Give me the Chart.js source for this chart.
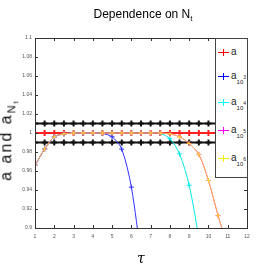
<!DOCTYPE html>
<html>
<head>
<meta charset="utf-8">
<script src="https://cdn.jsdelivr.net/npm/chart.js@4"></script>
<style>
  body { margin: 0; background: #fff; }
  #wrap { position: relative; width: 273px; height: 273px; font-family: "Liberation Sans", Arial, sans-serif; }
  #title { position: absolute; left: 0; width: 286px; top: 7px; text-align: center; font-family: "Liberation Sans Narrow", "Liberation Sans", sans-serif; font-stretch: condensed; font-size: 12px; color: #000; }
  #ylab { position: absolute; left: 9px; top: 140px; transform: translate(-50%, -50%) rotate(-90deg); font-size: 16px; white-space: nowrap; letter-spacing: 2px; font-weight: normal; color: #111; }
  #xlab { position: absolute; left: 137px; top: 250px; font-size: 14px; font-style: italic; font-family: "DejaVu Serif", serif; }
  #legend { position: absolute; left: 215px; top: 38px; width: 31px; height: 138px; border: 1px solid #444; background: #fff; overflow: hidden; }
  .item { position: absolute; left: 0; height: 12px; width: 31px; }
  .ln { position: absolute; left: 2px; top: 6px; width: 11px; height: 1px; }
  .pv { position: absolute; left: 7px; top: 3px; width: 1px; height: 7px; }
  .tx { position: absolute; left: 15px; top: 0px; font-size: 10px; line-height: 11px; color: #222; white-space: nowrap; }
  .tx sub { font-size: 6px; vertical-align: -5px; }
  .tx sup { font-size: 5px; vertical-align: 5px; }
</style>
</head>
<body>
<div id="wrap">
  <canvas id="myChart" width="273" height="273"></canvas>
  <div id="title">Dependence on N<sub style="font-size:8px">t</sub></div>
  <div id="ylab">a and a<sub style="font-size:11px">N<sub style="font-size:8px">t</sub></sub></div>
  <div id="xlab">τ</div>
  <div id="legend"></div>
</div>
<script>
var tau = [1, 1.5, 2, 2.5, 3, 3.5, 4, 4.5, 5, 5.5, 6, 6.5, 7, 7.5, 8, 8.5, 9, 9.5, 10, 10.5, 11, 11.5, 12];
var aRef = [1, 1, 1, 1, 1, 1, 1, 1, 1, 1, 1, 1, 1, 1, 1, 1, 1, 1, 1, 1, 1, 1, 1];
var upperBand = [1.01, 1.01, 1.01, 1.01, 1.01, 1.01, 1.01, 1.01, 1.01, 1.01, 1.01, 1.01, 1.01, 1.01, 1.01, 1.01, 1.01, 1.01, 1.01, 1.01, 1.01, 1.01, 1.01];
var lowerBand = [0.99, 0.99, 0.99, 0.99, 0.99, 0.99, 0.99, 0.99, 0.99, 0.99, 0.99, 0.99, 0.99, 0.99, 0.99, 0.99, 0.99, 0.99, 0.99, 0.99, 0.99, 0.99, 0.99];
var a1e3 = [0.966, 0.983, 0.996, 0.999, 1, 1, 1, 0.9995, 0.996, 0.983, 0.943, 0.87];
var a1e4 = [0.966, 0.983, 0.996, 0.999, 1, 1, 1, 1, 1, 1, 1, 1, 1, 0.9995, 0.994, 0.978, 0.945, 0.89];
var a1e5 = [0.966, 0.983, 0.996, 0.999, 1, 1, 1, 1, 1, 1, 1, 1, 1, 1, 0.999, 0.996, 0.989, 0.9775, 0.95, 0.913, 0.88];
var a1e6 = [0.966, 0.983, 0.996, 0.999, 1, 1, 1, 1, 1, 1, 1, 1, 1, 1, 0.999, 0.996, 0.989, 0.9775, 0.95, 0.913, 0.88];
var yTicks = [0.9, 0.92, 0.94, 0.96, 0.98, 1, 1.02, 1.04, 1.06, 1.08, 1.1];

var legendItems = [
    { html: 'a', color: '#ff0000' },
    { html: 'a<sub>10<sup>3</sup></sub>', color: '#0000ff' },
    { html: 'a<sub>10<sup>4</sup></sub>', color: '#00ffff' },
    { html: 'a<sub>10<sup>5</sup></sub>', color: '#ff00ff' },
    { html: 'a<sub>10<sup>6</sup></sub>', color: '#f0f000' }
];
var legendTops = [7, 31, 57, 85, 113];

function pts(ys) {
    return ys.map(function (y, i) { return { x: tau[i], y: y }; });
}

function serie(ys, color, width, radius, order) {
    return {
        data: pts(ys),
        borderColor: color,
        backgroundColor: color,
        borderWidth: width,
        pointStyle: 'cross',
        pointRadius: radius,
        pointBorderWidth: width,
        pointBorderColor: color,
        tension: 0.3,
        order: order
    };
}

var frame = {
    id: 'frame',
    afterDraw: function (chart) {
        var c = chart.ctx, a = chart.chartArea;
        var sx = chart.scales.x, sy = chart.scales.y;
        c.save();
        c.strokeStyle = '#333';
        c.lineWidth = 1;
        c.beginPath();
        sx.ticks.forEach(function (t) {
            var p = Math.round(sx.getPixelForValue(t.value)) + 0.5;
            c.moveTo(p, a.bottom); c.lineTo(p, a.bottom - 3);
            c.moveTo(p, a.top); c.lineTo(p, a.top + 3);
        });
        sy.ticks.forEach(function (t) {
            var p = Math.round(sy.getPixelForValue(t.value)) + 0.5;
            c.moveTo(a.left, p); c.lineTo(a.left + 3, p);
            c.moveTo(a.right, p); c.lineTo(a.right - 3, p);
        });
        c.stroke();
        c.strokeRect(Math.round(a.left) + 0.5, Math.round(a.top) + 0.5, Math.round(a.right - a.left), Math.round(a.bottom - a.top));
        c.restore();
    }
};

var ctx = document.getElementById('myChart').getContext('2d');
var myChart = new Chart(ctx, {
    type: 'line',
    data: {
        datasets: [
            serie(a1e6, 'rgba(255,240,0,0.75)', 1, 2.5, 0),
            serie(a1e5, '#ff00ff', 1, 2.5, 1),
            serie(a1e4, '#00e8e8', 1, 2.5, 2),
            serie(a1e3, '#3030ff', 1, 2.5, 3),
            serie(aRef, '#ff2020', 2, 3, 4),
            serie(upperBand, '#111', 2, 3, 5),
            serie(lowerBand, '#111', 2, 3, 5)
        ]
    },
    options: {
        responsive: false,
        animation: false,
        layout: { padding: { left: 0, top: 38, right: 26, bottom: 0 } },
        plugins: { legend: { display: false }, title: { display: false }, tooltip: { enabled: false } },
        scales: {
            x: {
                type: 'linear',
                min: 1,
                max: 12,
                afterFit: function (s) { s.height = 45; },
                grid: { display: false, drawTicks: false },
                border: { display: false },
                ticks: { stepSize: 1, padding: 6, color: '#555', font: { size: 5 } }
            },
            y: {
                min: 0.9,
                max: 1.1,
                afterFit: function (s) { s.width = 35; },
                afterBuildTicks: function (s) { s.ticks = yTicks.map(function (v) { return { value: v }; }); },
                grid: { display: false, drawTicks: false },
                border: { display: false },
                ticks: {
                    padding: 3,
                    color: '#555',
                    font: { size: 5 },
                    callback: function (v) { return String(parseFloat(v.toFixed(2))); }
                }
            }
        }
    },
    plugins: [frame]
});

var lg = document.getElementById('legend');
legendItems.forEach(function (it, i) {
    var d = document.createElement('div');
    d.className = 'item';
    d.style.top = legendTops[i] + 'px';
    d.innerHTML = '<div class="ln" style="background:' + it.color + '"></div>' +
        '<div class="pv" style="background:' + it.color + '"></div>' +
        '<div class="tx">' + it.html + '</div>';
    lg.appendChild(d);
});
</script>
</body>
</html>
